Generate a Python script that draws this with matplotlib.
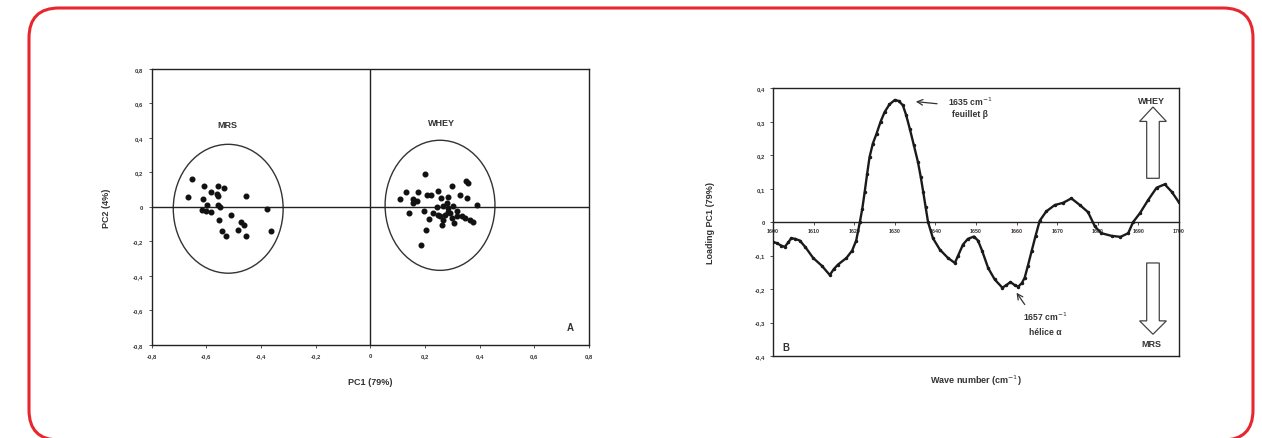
import matplotlib
matplotlib.use("Agg")
import matplotlib.pyplot as plt
from matplotlib.patches import Ellipse, FancyBboxPatch, FancyArrow
from matplotlib.ticker import FuncFormatter

plt.rcParams['font.family'] = ['Liberation Sans', 'DejaVu Sans']

# ---- Panel A: PCA scores ----
mrs_pc1 = [-0.653, -0.667, -0.607, -0.558, -0.536, -0.583, -0.561, -0.558, -0.611,
           -0.454, -0.599, -0.616, -0.601, -0.583, -0.558, -0.550, -0.554, -0.510,
           -0.473, -0.461, -0.485, -0.542, -0.527, -0.456, -0.379, -0.364]
mrs_pc2 = [0.163, 0.060, 0.124, 0.124, 0.112, 0.085, 0.076, 0.062, 0.047,
           0.062, 0.012, -0.016, -0.022, -0.031, 0.008, 0.000, -0.074, -0.047,
           -0.090, -0.103, -0.136, -0.138, -0.167, -0.169, -0.010, -0.140]

whey_pc1 = [0.200, 0.298, 0.350, 0.356, 0.130, 0.109, 0.155, 0.176, 0.209, 0.221,
            0.246, 0.257, 0.285, 0.328, 0.355, 0.389, 0.143, 0.198, 0.215, 0.204,
            0.184, 0.243, 0.267, 0.279, 0.285, 0.304, 0.249, 0.265, 0.263, 0.298,
            0.316, 0.306, 0.346, 0.365, 0.374, 0.230, 0.285, 0.273, 0.170, 0.157,
            0.255, 0.291, 0.316, 0.334]
whey_pc2 = [0.192, 0.124, 0.153, 0.136, 0.085, 0.047, 0.047, 0.085, 0.066, 0.066,
            0.091, 0.052, 0.056, 0.066, 0.050, 0.010, -0.035, -0.023, -0.070, -0.136,
            -0.219, 0.000, 0.004, 0.023, -0.006, 0.004, -0.045, -0.074, -0.105, -0.064,
            -0.054, -0.093, -0.064, -0.074, -0.089, -0.035, -0.031, -0.045, 0.033, 0.023,
            -0.054, -0.035, -0.025, -0.054]

# confidence ellipses: centre x, centre y, width, height
mrs_ellipse = (-0.520, -0.011, 0.402, 0.748)
whey_ellipse = (0.255, 0.009, 0.402, 0.755)

pca_ticks = [-0.8, -0.6, -0.4, -0.2, 0, 0.2, 0.4, 0.6, 0.8]

# ---- Panel B: PC1 loadings ----
wavenumber = [1600.0, 1601.0, 1602.0, 1602.9, 1603.8, 1604.5, 1605.5, 1606.6, 1608.0,
              1609.9, 1612.0, 1614.0, 1615.0, 1616.0, 1618.1, 1619.5, 1620.5, 1621.4,
              1622.0, 1622.6, 1623.2, 1623.8, 1624.6, 1625.5, 1626.5, 1627.5, 1628.7,
              1630.0, 1631.0, 1632.0, 1632.8, 1633.7, 1634.7, 1635.7, 1636.4, 1637.0,
              1637.6, 1638.2, 1639.4, 1641.1, 1643.1, 1644.8, 1645.6, 1646.8, 1648.0,
              1649.5, 1650.5, 1651.5, 1653.0, 1654.6, 1656.5, 1657.5, 1658.5, 1659.5,
              1660.4, 1661.3, 1662.0, 1662.8, 1663.7, 1664.7, 1665.7, 1667.3, 1669.4,
              1671.5, 1673.5, 1675.6, 1677.6, 1679.3, 1680.9, 1683.4, 1685.6, 1687.5,
              1688.7, 1690.4, 1692.4, 1694.5, 1696.5, 1698.2, 1700.0]
loading = [-0.059, -0.063, -0.070, -0.074, -0.060, -0.048, -0.050, -0.055, -0.075,
           -0.107, -0.130, -0.158, -0.140, -0.127, -0.107, -0.085, -0.055, 0.000,
           0.040, 0.091, 0.145, 0.195, 0.235, 0.264, 0.300, 0.329, 0.352,
           0.365, 0.362, 0.349, 0.320, 0.279, 0.230, 0.180, 0.135, 0.091,
           0.045, 0.000, -0.048, -0.082, -0.107, -0.122, -0.100, -0.067, -0.050,
           -0.043, -0.055, -0.085, -0.137, -0.171, -0.196, -0.188, -0.179, -0.188,
           -0.193, -0.182, -0.166, -0.130, -0.087, -0.040, 0.004, 0.032, 0.051,
           0.058, 0.071, 0.051, 0.030, -0.013, -0.033, -0.041, -0.044, -0.033,
           0.000, 0.027, 0.066, 0.103, 0.113, 0.091, 0.059]

wn_ticks = [1600, 1610, 1620, 1630, 1640, 1650, 1660, 1670, 1680, 1690, 1700]
load_ticks = [-0.4, -0.3, -0.2, -0.1, 0, 0.1, 0.2, 0.3, 0.4]

INK = '#222222'
TICK_INK = '#3a3232'
RED = '#e8262d'


def comma_fmt(v, _pos=None):
    if abs(v) < 1e-9:
        return '0'
    return ('%.1f' % v).replace('.', ',')


fig = plt.figure(figsize=(12.62, 4.39), dpi=100)

# rounded red frame, in inches
frame = FancyBboxPatch((0.29, 4.39 - 4.41), 12.24, 4.41 - 0.09,
                       boxstyle='round,pad=0,rounding_size=0.30',
                       transform=fig.dpi_scale_trans, fill=False,
                       edgecolor=RED, linewidth=2.2, clip_on=False)
fig.patches.append(frame)

# ---------- Panel A ----------
axA = fig.add_axes([0.1202, 0.2125, 0.3465, 0.628])
axA.set_xlim(-0.8, 0.8)
axA.set_ylim(-0.8, 0.8)
axA.axhline(0, color=INK, lw=1.0)
axA.axvline(0, color=INK, lw=1.0)
for cx, cy, w, h in (mrs_ellipse, whey_ellipse):
    axA.add_patch(Ellipse((cx, cy), w, h, fill=False, edgecolor='#333333', lw=1.0))
axA.scatter(mrs_pc1, mrs_pc2, s=11, color='#111111', zorder=3)
axA.scatter(whey_pc1, whey_pc2, s=11, color='#111111', zorder=3)
axA.text(-0.523, 0.48, 'MRS', ha='center', va='center', fontsize=6.5,
         fontweight='bold', color='#333333')
axA.text(0.261, 0.489, 'WHEY', ha='center', va='center', fontsize=6.5,
         fontweight='bold', color='#333333')
axA.text(0.73, -0.695, 'A', ha='center', va='center', fontsize=7,
         fontweight='bold', color='#333333')
axA.set_xticks(pca_ticks)
axA.set_yticks(pca_ticks)
axA.xaxis.set_major_formatter(FuncFormatter(comma_fmt))
axA.yaxis.set_major_formatter(FuncFormatter(comma_fmt))
axA.tick_params(labelsize=4.2, length=2, width=0.6, pad=4, colors=TICK_INK)
for lab in axA.get_xticklabels() + axA.get_yticklabels():
    lab.set_fontweight('bold')
axA.set_xlabel('PC1 (79%)', fontsize=6.5, fontweight='bold', color='#333333', labelpad=14)
axA.set_ylabel('PC2 (4%)', fontsize=6.5, fontweight='bold', color='#333333', labelpad=16)
for sp in axA.spines.values():
    sp.set_linewidth(1.0)
    sp.set_color(INK)

# ---------- Panel B ----------
axB = fig.add_axes([0.6125, 0.1868, 0.3217, 0.6098])
axB.set_xlim(1600, 1700)
axB.set_ylim(-0.4, 0.4)
axB.plot(wavenumber, loading, color='#1a1a1a', lw=1.7, marker='o', ms=1.5,
         solid_joinstyle='round', zorder=3)
axB.set_yticks(load_ticks)
axB.yaxis.set_major_formatter(FuncFormatter(comma_fmt))
axB.set_xticks([])
axB.tick_params(axis='y', labelsize=4.2, length=2, width=0.6, pad=4, colors=TICK_INK)
for lab in axB.get_yticklabels():
    lab.set_fontweight('bold')

# wavenumber axis drawn along the zero line, labels underneath
zero_axis = axB.secondary_xaxis(0.4999)
zero_axis.set_xticks(wn_ticks)
zero_axis.set_xticklabels([str(t) for t in wn_ticks])
zero_axis.tick_params(labelsize=3.8, length=2, width=0.6, pad=2, colors=TICK_INK)
for sp in zero_axis.spines.values():
    sp.set_linewidth(1.0)
    sp.set_color(INK)
for lab in zero_axis.get_xticklabels():
    lab.set_fontweight('bold')

for sp in axB.spines.values():
    sp.set_linewidth(1.0)
    sp.set_color(INK)

axB.set_xlabel('Wave number (cm$^{-1}$)', fontsize=6.5, fontweight='bold',
               color='#333333', labelpad=12)
axB.set_ylabel('Loading PC1 (79%)', fontsize=6.5, fontweight='bold',
               color='#333333', labelpad=28)

# band annotations
axB.annotate('', xy=(1634.5, 0.361), xytext=(1641.1, 0.353),
             arrowprops=dict(arrowstyle='->', color='#333333', lw=0.9))
axB.text(1648.5, 0.363, '1635 cm$^{-1}$', ha='center', va='center', fontsize=6.2,
         fontweight='bold', color='#333333')
axB.text(1648.5, 0.326, 'feuillet β', ha='center', va='center', fontsize=6.2,
         fontweight='bold', color='#333333')
axB.annotate('', xy=(1659.6, -0.204), xytext=(1662.4, -0.253),
             arrowprops=dict(arrowstyle='->', color='#333333', lw=0.9))
axB.text(1667.0, -0.280, '1657 cm$^{-1}$', ha='center', va='center', fontsize=6.2,
         fontweight='bold', color='#333333')
axB.text(1667.0, -0.327, 'hélice α', ha='center', va='center', fontsize=6.2,
         fontweight='bold', color='#333333')

# group direction arrows
axB.add_patch(FancyArrow(1693.6, 0.131, 0, 0.213, width=3.1, head_width=6.6,
                         head_length=0.043, length_includes_head=True,
                         facecolor='white', edgecolor='#444444', lw=0.9))
axB.add_patch(FancyArrow(1693.6, -0.122, 0, -0.213, width=3.1, head_width=6.6,
                         head_length=0.040, length_includes_head=True,
                         facecolor='white', edgecolor='#444444', lw=0.9))
axB.text(1693.3, 0.363, 'WHEY', ha='center', va='center', fontsize=6.5,
         fontweight='bold', color='#333333')
axB.text(1693.3, -0.362, 'MRS', ha='center', va='center', fontsize=6.5,
         fontweight='bold', color='#333333')
axB.text(1603.1, -0.372, 'B', ha='center', va='center', fontsize=7,
         fontweight='bold', color='#333333')

fig.savefig('out.png', dpi=100)
